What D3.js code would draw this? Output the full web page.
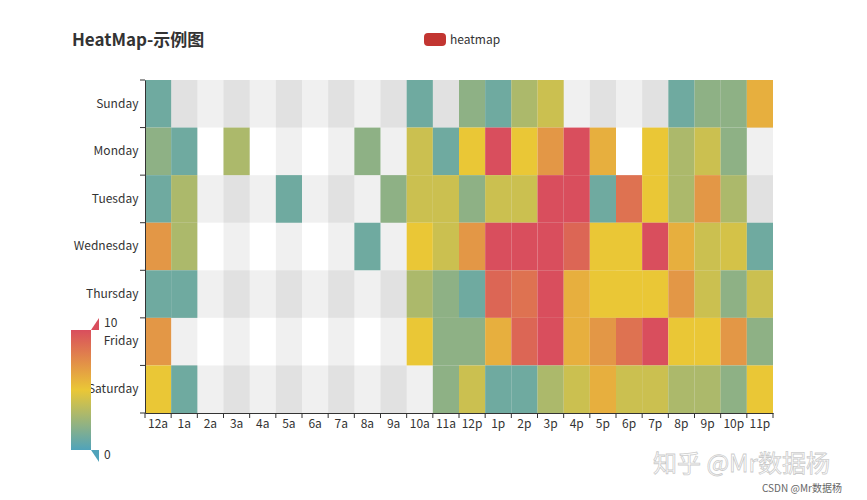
<!DOCTYPE html><html><head><meta charset="utf-8"><script src="https://cdn.jsdelivr.net/npm/d3@7"></script>
<style>body{margin:0;background:#fff}text{font-family:"Microsoft YaHei","Noto Sans CJK SC",sans-serif}</style></head><body><svg id="c" width="867" height="500"></svg><script>
const hours=["12a","1a","2a","3a","4a","5a","6a","7a","8a","9a","10a","11a","12p","1p","2p","3p","4p","5p","6p","7p","8p","9p","10p","11p"];
const days=["Sunday","Monday","Tuesday","Wednesday","Thursday","Friday","Saturday"];
const N=null;
const sunday=[1,N,N,N,N,N,N,N,N,N,1,N,2,1,3,4,N,N,N,N,1,2,2,6];
const monday=[2,1,N,3,N,N,N,N,2,N,4,1,5,10,5,7,10,6,N,5,3,4,2,N];
const tuesday=[1,3,N,N,N,1,N,N,N,2,4,4,2,4,4,10,10,1,8.5,5,3,7,3,N];
const wednesday=[7,3,N,N,N,N,N,N,1,N,5,4,7,10,10,10,9,5,5,10,6,4,4.3,1];
const thursday=[1,1,N,N,N,N,N,N,N,N,3,2,1,9,8.5,10,6,5,5,5,7,4,2,4];
const friday=[7,N,N,N,N,N,N,N,N,N,5,2,2,6,9,10,6,7,8.5,10,5,5,7,2];
const saturday=[5,1,N,N,N,N,N,N,N,N,N,2,4,1,1,3,4,6,4,4,3,3,2,5];
const rows=[sunday,monday,tuesday,wednesday,thursday,friday,saturday];
const svg=d3.select("#c");
const x=d3.scaleBand().domain(hours).range([145,773]);
const y=d3.scaleBand().domain(days).range([80,413]);
const color=d3.scaleLinear().domain([0,5,10]).range(["#50a3ba","#eac736","#d94e5d"]);
hours.forEach((h,i)=>{if(i%2)svg.append("rect").attr("x",x(h)).attr("y",80).attr("width",x.bandwidth()).attr("height",333).attr("fill","rgba(0,0,0,0.06)");});
days.forEach((d,i)=>{if(i%2==0)svg.append("rect").attr("x",145).attr("y",y(d)).attr("width",628).attr("height",y.bandwidth()).attr("fill","rgba(0,0,0,0.06)");});
const cells=[];rows.forEach((r,j)=>r.forEach((v,i)=>{if(v!=null)cells.push({d:days[j],h:hours[i],v});}));
svg.selectAll(".cell").data(cells).join("rect").attr("x",d=>x(d.h)).attr("y",d=>y(d.d)).attr("width",x.bandwidth()).attr("height",y.bandwidth()).attr("fill",d=>color(d.v));
const xa=svg.append("g").attr("transform","translate(0,413)").call(d3.axisBottom(x).tickSizeOuter(0).tickSize(0));
xa.selectAll("text").attr("font-size",12).attr("fill","#333").attr("dy","1em");
xa.select(".domain").attr("stroke","#333");
hours.concat(["end"]).forEach((h,i)=>xa.append("line").attr("x1",145+i*x.step()).attr("x2",145+i*x.step()).attr("y1",0).attr("y2",5).attr("stroke","#333"));
const ya=svg.append("g").attr("transform","translate(145,0)").call(d3.axisLeft(y).tickSize(0));
ya.selectAll("text").attr("font-size",12).attr("fill","#333").attr("dx","-0.3em");
ya.select(".domain").attr("stroke","#333");
days.concat(["e"]).forEach((d,i)=>ya.append("line").attr("x1",0).attr("x2",-5).attr("y1",80+i*y.step()).attr("y2",80+i*y.step()).attr("stroke","#333"));
svg.append("text").attr("x",72).attr("y",46).attr("font-size",17).attr("font-weight","bold").attr("fill","#333").text("HeatMap-示例图");
svg.append("rect").attr("x",424).attr("y",33).attr("width",22).attr("height",13).attr("rx",4).attr("fill","#c23531");
svg.append("text").attr("x",450).attr("y",44).attr("font-size",12).attr("fill","#333").text("heatmap");
const defs=svg.append("defs");const g=defs.append("linearGradient").attr("id","vm").attr("x1",0).attr("y1",1).attr("x2",0).attr("y2",0);
[0,5,10].forEach(v=>g.append("stop").attr("offset",v/10).attr("stop-color",color(v)));
const vm=d3.scaleLinear().domain([0,10]).range([450,330]);
svg.append("rect").attr("x",71).attr("y",vm(10)).attr("width",20).attr("height",vm(0)-vm(10)).attr("fill","url(#vm)");
svg.append("path").attr("d",`M91,${vm(10)}L99,${vm(10)-12}L99,${vm(10)}Z`).attr("fill",color(10));
svg.append("path").attr("d",`M91,${vm(0)}L99,${vm(0)}L99,${vm(0)+12}Z`).attr("fill",color(0));
svg.append("text").attr("x",104).attr("y",vm(10)-3).attr("font-size",12).attr("fill","#333").text("10");
svg.append("text").attr("x",104).attr("y",vm(0)+9).attr("font-size",12).attr("fill","#333").text("0");
svg.append("text").attr("x",653).attr("y",472).attr("font-size",24).attr("fill","rgba(255,255,255,0.85)").attr("stroke","rgba(150,150,150,0.5)").attr("stroke-width",0.8).text("知乎 @Mr数据杨");
svg.append("text").attr("x",762).attr("y",492).attr("font-size",10).attr("fill","#666").text("CSDN @Mr数据杨");
</script></body></html>
